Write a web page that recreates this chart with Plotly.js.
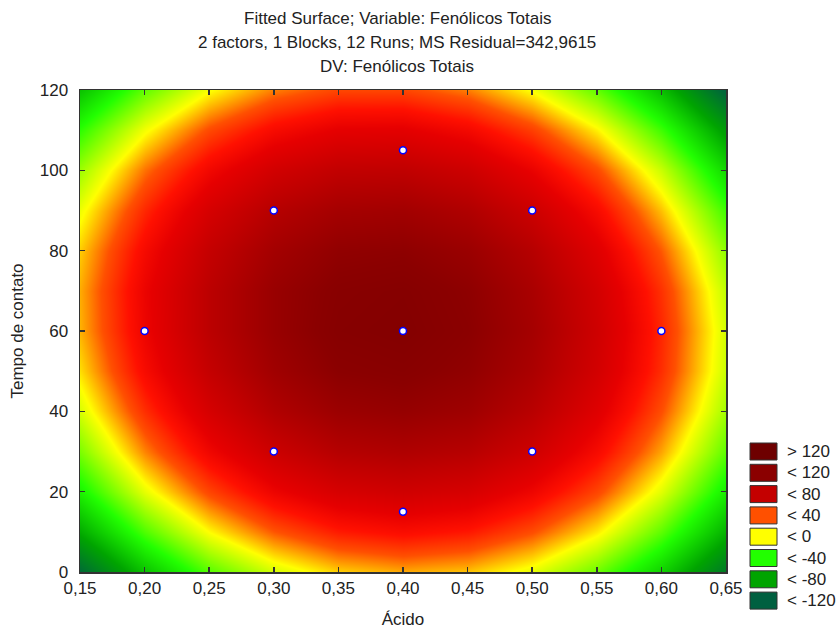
<!DOCTYPE html>
<html>
<head>
<meta charset="utf-8">
<script src="https://cdn.plot.ly/plotly-3.0.1.min.js"></script>
<style>html,body{margin:0;padding:0;background:#fff;}#chart{width:839px;height:629px;}</style>
</head>
<body>
<div id="chart"></div>
<script>
// Grid of the fitted surface (Ácido x Tempo de contato)
const acido = [0.15, 0.20, 0.25, 0.30, 0.35, 0.40, 0.45, 0.50, 0.55, 0.60, 0.65];
const tempo = [0, 10, 20, 30, 40, 50, 60, 70, 80, 90, 100, 110, 120];
const fenolicos = [
  [-134, -87, -50, -24,  -8,  -2,  -6, -20, -45, -80, -125], // 0
  [ -97, -51, -15,  11,  27,  33,  28,  13, -12, -48,  -94], // 10
  [ -66, -20,  15,  41,  56,  61,  56,  40,  15, -21,  -68], // 20
  [ -42,   4,  39,  64,  79,  83,  78,  62,  35,  -1,  -48], // 30
  [ -23,  22,  57,  82,  96, 100,  94,  77,  50,  13,  -34], // 40
  [ -10,  35,  69,  93, 107, 110, 103,  86,  59,  22,  -26], // 50
  [  -3,  41,  75,  98, 112, 115, 107,  90,  62,  24,  -24], // 60
  [  -2,  42,  75,  98, 110, 113, 105,  87,  59,  21,  -28], // 70
  [  -7,  36,  69,  91, 103, 105,  97,  79,  50,  11,  -38], // 80
  [ -18,  24,  57,  79,  90,  92,  83,  64,  35,  -5,  -54], // 90
  [ -35,   7,  38,  60,  71,  72,  63,  43,  14, -26,  -77], // 100
  [ -58, -17,  14,  35,  46,  47,  37,  17, -13, -54, -105], // 110
  [ -87, -47, -16,   5,  15,  15,   5, -16, -47, -88, -139]  // 120
];
// Experimental runs
const runAcido = [0.40, 0.30, 0.50, 0.20, 0.40, 0.60, 0.30, 0.50, 0.40];
const runTempo = [105, 90, 90, 60, 60, 60, 30, 30, 15];
// Legend
const legendLabels = ['> 120', '< 120', '< 80', '< 40', '< 0', '< -40', '< -80', '< -120'];
const legendColors = ['#6e0000', '#8b0000', '#c40000', '#ff5000', '#ffff00', '#22ff00', '#00a400', '#006040'];
// Colour spectrum of the smooth fill
const levelValues = [-140, -100, -60, -15, 12, 30, 45, 72, 93, 107, 140];
const levelColors = ['#006040', '#00a400', '#22ff00', '#ffff00', '#ff5000', '#ff1000', '#e60000', '#c00000', '#a00000', '#8b0000', '#6e0000'];

const zMin = -140, zMax = 140;
const colorscale = levelValues.map((v, i) => [(v - zMin) / (zMax - zMin), levelColors[i]]);

const FONT = 'Liberation Sans, Arial, sans-serif';
const W = 839, H = 629, ML = 80, MR = 113, MT = 90, MB = 57;
const PW = W - ML - MR, PH = H - MT - MB;
const px2x = p => (p - ML) / PW;
const py2y = p => (H - MB - p) / PH;

const shapes = [], annotations = [];
legendLabels.forEach((lab, i) => {
  const top = 443 + i * 21.3;
  shapes.push({type: 'rect', xref: 'paper', yref: 'paper',
    x0: px2x(750), x1: px2x(777), y0: py2y(top + 17), y1: py2y(top),
    fillcolor: legendColors[i], line: {color: '#333', width: 1}});
  annotations.push({xref: 'paper', yref: 'paper', x: px2x(785), y: py2y(top + 8.5),
    xanchor: 'left', yanchor: 'middle', text: lab, showarrow: false,
    font: {family: FONT, size: 17, color: '#222'}});
});
const titleLines = ['Fitted Surface; Variable: Fenólicos Totais',
  '2 factors, 1 Blocks, 12 Runs; MS Residual=342,9615', 'DV: Fenólicos Totais'];
titleLines.forEach((t, i) => {
  annotations.push({xref: 'paper', yref: 'paper', x: px2x(397), y: 1, yanchor: 'middle',
    yshift: 72 - 24 * i, text: t, showarrow: false, font: {family: FONT, size: 17, color: '#222'}});
});

const traces = [
  {type: 'heatmap', x: acido, y: tempo, z: fenolicos, zsmooth: 'best',
   colorscale: colorscale, zmin: zMin, zmax: zMax, showscale: false, hoverinfo: 'skip'},
  {type: 'scatter', mode: 'markers', x: runAcido, y: runTempo,
   marker: {color: '#ffffff', size: 7, line: {color: '#0000ff', width: 1.5}}, showlegend: false}
];

const axisCommon = {showline: true, mirror: 'ticks', linecolor: '#333', linewidth: 1.5,
  ticks: 'inside', ticklen: 5, tickcolor: '#333', tickwidth: 1.5, showgrid: false, zeroline: false,
  tickfont: {family: FONT, size: 17, color: '#222'}};

const layout = {
  width: W, height: H, margin: {l: ML, r: MR, t: MT, b: MB, pad: 0},
  paper_bgcolor: '#fff', plot_bgcolor: '#fff', separators: ',.', showlegend: false,
  xaxis: Object.assign({}, axisCommon, {range: [0.15, 0.65], tick0: 0.15, dtick: 0.05, tickformat: '.2f',
    ticklabelstandoff: 0,
    title: {text: 'Ácido', font: {family: FONT, size: 17, color: '#222'}, standoff: 18}}),
  yaxis: Object.assign({}, axisCommon, {range: [0, 120], tick0: 0, dtick: 20,
    ticklabelstandoff: 7,
    title: {text: 'Tempo de contato', font: {family: FONT, size: 17, color: '#222'}, standoff: 12}}),
  shapes: shapes, annotations: annotations
};

Plotly.newPlot('chart', traces, layout, {staticPlot: true, displayModeBar: false});
</script>
</body>
</html>
